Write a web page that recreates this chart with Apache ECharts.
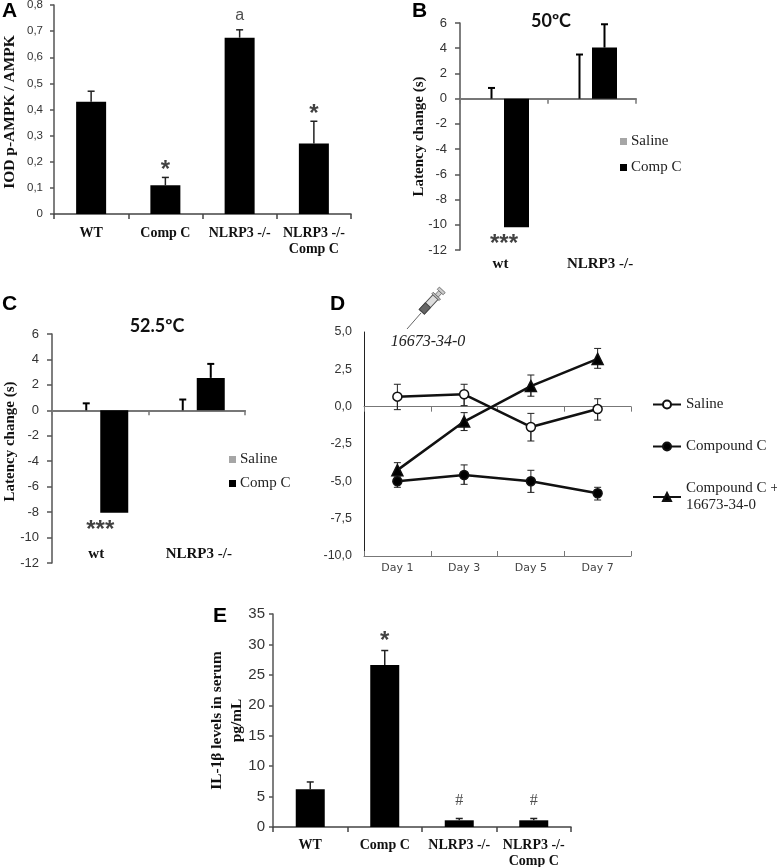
<!DOCTYPE html>
<html><head><meta charset="utf-8">
<style>html,body{margin:0;padding:0;background:#fff}#c{width:777px;height:867px}</style>
<script src="https://cdn.jsdelivr.net/npm/echarts@6/dist/echarts.min.js"></script>
</head><body><div id="c"></div>
<script>
// Panel A
const catsA = ['WT','Comp C','NLRP3 -/-','NLRP3 -/-\nComp C'];
const valA = [0.43,0.11,0.675,0.27];
const errA = [0.47,0.14,0.705,0.355];
const markA = [[1,0.168,'*'],[2,0.76,'a'],[3,0.383,'*']];
// Panel B
const catsB = ['wt','NLRP3 -/-'];
const salineB = [0,0];
const salineErrB = [0.85,3.5];
const compB = [-10.2,4.05];
const compErrB = [null,5.9];
const markB = [[0,-11.55,'***']];
// Panel C
const catsC = ['wt','NLRP3 -/-'];
const salineC = [0,0];
const salineErrC = [0.55,0.85];
const compC = [-8.05,2.55];
const compErrC = [null,3.65];
const markC = [[0,-9.45,'***']];
// Panel D
const days = ['Day 1','Day 3','Day 5','Day 7'];
const dSaline = [0.67,0.83,-1.36,-0.16];
const dSalineHi = [1.5,1.5,-0.45,0.53];
const dSalineLo = [-0.2,0.07,-2.3,-0.9];
const dComp = [-5.0,-4.58,-5.0,-5.8];
const dCompHi = [-4.6,-3.9,-4.26,-5.4];
const dCompLo = [-5.4,-5.2,-5.74,-6.25];
const dBoth = [-4.25,-1.0,1.38,3.2];
const dBothHi = [-3.75,-0.4,2.12,3.9];
const dBothLo = [-4.7,-1.6,0.7,2.57];
// Panel E
const catsE = ['WT','Comp C','NLRP3 -/-','NLRP3 -/-\nComp C'];
const valE = [6.2,26.6,1.1,1.1];
const errE = [7.4,29,1.4,1.4];
const markE = [[1,30.5,'*'],[2,4.3,'#'],[3,4.3,'#']];

const SERIF = '"Liberation Serif"', SANS = '"Liberation Sans"';
const grids = [
  {left:54,top:5,width:297,height:209,outerBoundsMode:'none'},
  {left:460,top:23,width:176,height:227,outerBoundsMode:'none'},
  {left:52,top:334,width:193,height:229,outerBoundsMode:'none'},
  {left:364,top:332,width:267,height:224,outerBoundsMode:'none'},
  {left:273,top:614,width:298,height:213,outerBoundsMode:'none'}
];
const comma = d => v => (+v).toFixed(d).replace('.',',');

function yAxis(i,min,max,interval,opt){
  return Object.assign({type:'value',gridIndex:i,min,max,interval,splitLine:{show:false},
    axisLine:{show:true,lineStyle:{color:'#555',width:1.5}},
    axisTick:{show:true,length:5,lineStyle:{color:'#555',width:1.5}},
    axisLabel:{color:'#333',fontFamily:SANS,fontSize:13,margin:13},
    nameMoveOverlap:false,
    nameLocation:'middle',nameTextStyle:{fontFamily:SERIF,fontWeight:'bold',fontSize:15,color:'#111'}},opt);
}
function catAxis(i,cats,size,margin){
  return {type:'category',gridIndex:i,data:cats,position:'bottom',
    axisLine:{show:true,onZero:false,lineStyle:{color:'#444',width:1.5}},
    axisTick:{show:true,length:5,lineStyle:{color:'#444',width:1.5}},
    axisLabel:{interval:0,color:'#111',fontFamily:SERIF,fontWeight:'bold',fontSize:size,margin,lineHeight:16}};
}
function zeroAxis(i,cats){
  return {type:'category',gridIndex:i,data:cats,position:'bottom',
    axisLine:{show:true,onZero:true,lineStyle:{color:'#777',width:2}},
    axisTick:{show:true,length:5,lineStyle:{color:'#777',width:1.5}},
    axisLabel:{show:false}};
}
function labelAxis(i,cats,size,offset,font,color,weight,pads){
  const data = pads ? cats.map((c,k)=>({value:c,textStyle:{padding:pads[k]}})) : cats;
  return {type:'category',gridIndex:i,data,position:'bottom',offset,
    axisLine:{show:false,onZero:false},axisTick:{show:false},
    axisLabel:{interval:0,color:color||'#111',fontFamily:font||SERIF,fontWeight:weight||'bold',fontSize:size,margin:4}};
}
function bar(name,x,y,data,color,w,gap){
  return {type:'bar',name,xAxisIndex:x,yAxisIndex:y,data,barWidth:w,barGap:gap,
    itemStyle:{color},silent:true,z:3};
}
function whisker(x,y,from,to,dx,lw,cap,color){
  const data=[];
  to.forEach((t,i)=>{ if(t!==null) data.push([i,from[i],t]); });
  return {type:'custom',xAxisIndex:x,yAxisIndex:y,data,silent:true,z:2,
    encode:{x:0,y:[1,2]},
    renderItem(params,api){
      const a=api.coord([api.value(0),api.value(1)]), b=api.coord([api.value(0),api.value(2)]);
      const s={stroke:color||'#000',lineWidth:lw,fill:null};
      const X=a[0]+dx;
      return {type:'group',children:[
        {type:'line',shape:{x1:X,y1:a[1],x2:X,y2:b[1]},style:s},
        {type:'line',shape:{x1:X-cap/2,y1:b[1],x2:X+cap/2,y2:b[1]},style:s}
      ]};
    }};
}
function marks(x,y,data,size,font,color,weight){
  return {type:'scatter',xAxisIndex:x,yAxisIndex:y,data,symbolSize:0,silent:true,z:5,
    label:{show:true,position:'inside',formatter:p=>p.value[2],fontFamily:font||SANS,fontWeight:weight||'bold',fontSize:size,color:color||'#111'}};
}
function dLine(name,vals,symbol,size,fill){
  return {type:'line',name,xAxisIndex:7,yAxisIndex:3,data:vals,symbol,symbolSize:size,showAllSymbol:true,
    lineStyle:{color:'#111',width:2.5},itemStyle:{color:fill,borderColor:'#111',borderWidth:1.5},z:4,silent:true};
}
const legendBars = (left,top,gap)=>({left,top,orient:'vertical',data:['Saline','Comp C'],icon:'rect',itemWidth:7,itemHeight:7,itemGap:gap,selectedMode:false,
  textStyle:{fontFamily:SERIF,fontSize:15,color:'#222',padding:[0,0,0,-1]}});
const letter = (t,x,y)=>({type:'text',left:x,top:y,style:{text:t,fontFamily:SANS,fontWeight:'bold',fontSize:21,fill:'#000'}});
const title = (t,cx,y)=>({type:'text',x:cx,y,style:{text:t,fontFamily:'Lato',fontWeight:'bold',fontSize:18,fill:'#111',textAlign:'center',textVerticalAlign:'middle'}});

const option = {
  backgroundColor:'#fff',animation:false,
  grid:grids,
  xAxis:[
    catAxis(0,catsA,14,11),                 //0
    zeroAxis(1,catsB),                      //1
    labelAxis(1,catsB,15,3,null,null,null,[[0,7,0,0],[0,0,0,16]]), //2
    zeroAxis(2,catsC),                      //3
    labelAxis(2,catsC,15,-20,null,null,null,[[0,8,0,0],[0,0,0,4]]), //4
    Object.assign(zeroAxis(3,days),{axisLine:{show:true,onZero:true,lineStyle:{color:'#777',width:1}},axisTick:{show:true,length:5,lineStyle:{color:'#777',width:1}}}), //5
    Object.assign(zeroAxis(3,days),{axisLine:{show:true,onZero:true,lineStyle:{color:'#777',width:1}},axisTick:{show:true,inside:true,length:5,lineStyle:{color:'#777',width:1}}}), //6
    labelAxis(3,days,11,3,'"DejaVu Sans"','#444','normal'), //7
    catAxis(4,catsE,14,10) //8
  ],
  yAxis:[
    yAxis(0,0,0.8,0.1,{name:'IOD p-AMPK / AMPK',nameGap:36.5,axisTick:{show:true,length:4,lineStyle:{color:'#555',width:1.5}},axisLabel:{color:'#333',fontFamily:SANS,fontSize:11.5,margin:11,formatter:v=>String(+(+v).toFixed(1)).replace('.',',')},nameTextStyle:{fontFamily:SERIF,fontWeight:'bold',fontSize:15.5,color:'#111',padding:[0,5,0,0]}}),
    yAxis(1,-12,6,2,{name:'Latency change (s)',nameGap:33}),
    yAxis(2,-12,6,2,{name:'Latency change (s)',nameGap:34,nameTextStyle:{fontFamily:SERIF,fontWeight:'bold',fontSize:15,color:'#111',padding:[0,0,0,14]}}),
    yAxis(3,-10,5,2.5,{axisLine:{show:true,lineStyle:{color:'#222',width:1}},axisTick:{length:5,lineStyle:{color:'#222',width:1}},axisLabel:{color:'#333',fontFamily:SANS,fontSize:12.5,margin:12,formatter:comma(1)}}),
    yAxis(4,0,35,5,{name:'IL-1β levels in serum\npg/mL',nameGap:26,axisTick:{show:true,length:4,lineStyle:{color:'#555',width:1.5}},axisLabel:{color:'#333',fontFamily:SANS,fontSize:15,margin:8},nameTextStyle:{fontFamily:SERIF,fontWeight:'bold',fontSize:15.4,color:'#111',lineHeight:20}})
  ],
  legend:[
    legendBars(615,129,11),
    legendBars(224,447,9),
    {left:647,top:391,orient:'vertical',data:['Saline ','Compound C','Compound C + 16673-34-0'],itemWidth:28,itemHeight:10,itemGap:25,selectedMode:false,
     formatter:n=>n.trim().replace(' + ',' +\n'),
     textStyle:{fontFamily:SERIF,fontSize:15,color:'#222',lineHeight:17}}
  ],
  series:[
    bar('A',0,0,valA,'#000',30),
    whisker(0,0,valA,errA,0,1.5,7,'#222'),
    marks(0,0,markA.filter(m=>m[2]==='*'),24),
    marks(0,0,markA.filter(m=>m[2]==='a'),16,SANS,'#222','normal'),

    bar('Saline',1,1,salineB,'#a6a6a6',25,'0%'),
    bar('Comp C',1,1,compB,'#000',25,'0%'),
    whisker(1,1,salineB,salineErrB,-12.5,2,7),
    whisker(1,1,compB,compErrB,12.5,2,7),
    marks(1,1,markB,24),

    bar('Saline',3,2,salineC,'#a6a6a6',28,'0%'),
    bar('Comp C',3,2,compC,'#000',28,'0%'),
    whisker(3,2,salineC,salineErrC,-14,2,7),
    whisker(3,2,compC,compErrC,14,2,7),
    marks(3,2,markC,24),

    whisker(7,3,dSalineLo,dSalineHi,0,1,7,'#222'),
    whisker(7,3,dSaline,dSalineLo,0,1,7,'#222'),
    whisker(7,3,dCompLo,dCompHi,0,1,7,'#222'),
    whisker(7,3,dComp,dCompLo,0,1,7,'#222'),
    whisker(7,3,dBothLo,dBothHi,0,1,7,'#222'),
    whisker(7,3,dBoth,dBothLo,0,1,7,'#222'),
    dLine('Compound C',dComp,'circle',9,'#000'),
    dLine('Compound C + 16673-34-0',dBoth,'triangle',11,'#000'),
    dLine('Saline ',dSaline,'circle',9,'#fff'),

    bar('E',8,4,valE,'#000',29),
    whisker(8,4,valE,errE,0,1.5,7,'#222'),
    marks(8,4,markE.filter(m=>m[2]==='*'),24),
    marks(8,4,markE.filter(m=>m[2]==='#'),16,SERIF,'#222','normal')
  ],
  graphic:[
    letter('A',2,1), letter('B',412,1), letter('C',2,294), letter('D',330,294), letter('E',213,606),
    title('50ºC',551,21), title('52.5ºC',157,326),
    {type:'text',x:428,y:342,style:{text:'16673-34-0',fontFamily:SERIF,fontStyle:'italic',fontSize:16,fill:'#222',textAlign:'center',textVerticalAlign:'middle'}},
    {type:'line',shape:{x1:407,y1:329,x2:421,y2:313},style:{stroke:'#666',lineWidth:1}},
    {type:'group',x:430,y:303,rotation:Math.PI/180*47,children:[
      {type:'rect',shape:{x:-12,y:-3.5,width:20,height:7},style:{fill:'#ddd',stroke:'#555',lineWidth:1}},
      {type:'rect',shape:{x:-12,y:-3.5,width:9,height:7},style:{fill:'#666',stroke:'#444',lineWidth:1}},
      {type:'rect',shape:{x:8,y:-5,width:2,height:10},style:{fill:'#bbb',stroke:'#666',lineWidth:.8}},
      {type:'rect',shape:{x:10,y:-2,width:5,height:4},style:{fill:'#ccc',stroke:'#666',lineWidth:.8}},
      {type:'rect',shape:{x:15,y:-4,width:3,height:8},style:{fill:'#ccc',stroke:'#666',lineWidth:.8}}
    ]}
  ]
};
echarts.init(document.getElementById('c'),null,{renderer:'canvas'}).setOption(option);
</script></body></html>
